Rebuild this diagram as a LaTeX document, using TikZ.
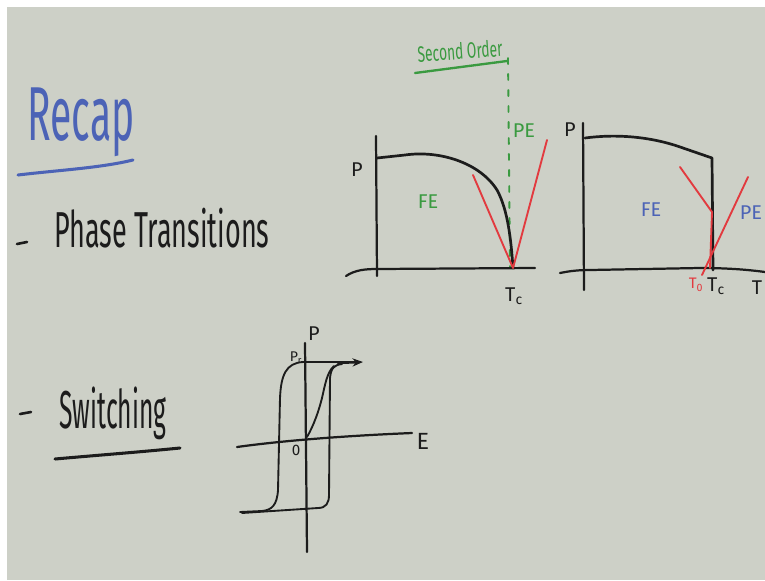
\documentclass[tikz,border=0pt]{standalone}
\usepackage{fontspec}
\setmainfont{Fira Sans}
\usepackage{xcolor}
\usetikzlibrary{arrows.meta}

\definecolor{board}{HTML}{CDD0C7}
\definecolor{penblue}{HTML}{4C63B6}
\definecolor{pengreen}{HTML}{3A9A40}
\definecolor{penred}{HTML}{E23A3F}
\definecolor{ink}{HTML}{1C1C1C}

% handwritten words: squeeze text into the box the pen used
\newcommand{\hand}[3]{\resizebox*{#1}{#2}{#3}}

\begin{document}
\begin{tikzpicture}[x=0.03cm, y=-0.03cm, line cap=round, line join=round,
  curve/.style={draw=ink, line width=2.3pt},
  axis/.style={draw=ink, line width=1.9pt},
  thin curve/.style={draw=ink, line width=1.6pt},
  redline/.style={draw=penred, line width=1.6pt},
  lbl/.style={inner sep=0pt, font=\fontsize{17}{19}\selectfont}]
  \useasboundingbox (0,0) rectangle (765,580);
  \fill[white] (0,0) rectangle (765,580);
  \fill[board] (7,7) rectangle (765,580);

  % Headings
  \node[inner sep=0pt, text=penblue] (recap) at (81,122) {\hand{3.21cm}{2.07cm}{Recap}};
  \draw[penblue, line width=2.6pt] (18,175) .. controls (60,170) and (100,168) .. (133,160);

  \draw[ink, line width=2.2pt] (17,244) -- (27,242);
  \node[inner sep=0pt, text=ink] (phase) at (162,228) {\hand{6.45cm}{1.2cm}{Phase Transitions}};

  \draw[ink, line width=2.2pt] (20,414) -- (31,412);
  \node[inner sep=0pt, text=ink] (switch) at (113,413) {\hand{3.21cm}{1.59cm}{Switching}};
  \draw[ink, line width=2.6pt] (55,459) .. controls (100,455) and (140,452) .. (180,448);

  % Second order transition
  \node[inner sep=0pt, text=pengreen, rotate=4] (second) at (460,51) {\hand{2.55cm}{0.51cm}{Second Order}};
  \draw[pengreen, line width=2pt] (415,73) -- (507,61);
  \draw[pengreen, line width=1.6pt, dash pattern=on 0.18cm off 0.3cm] (508,58) -- (510,268);

  \draw[axis] (376,136) -- (377,276);
  \draw[axis] (346,276) .. controls (355,270) and (365,269) .. (377,269) -- (535,268);
  \draw[curve] (377,158) -- (405,155) .. controls (440,150) and (480,163) .. (497,190)
    .. controls (508,210) and (511,240) .. (513,268);
  \draw[redline] (473,175) -- (513,268) -- (547,140);

  \node[lbl, text=ink] (p1) at (357,170) {P};
  \node[lbl, text=pengreen] (fe1) at (428,202) {FE};
  \node[lbl, text=pengreen] (pe1) at (524,131) {PE};
  \node[lbl, text=ink] (tc1) at (514,296) {T\textsubscript{c}};

  % First order transition
  \draw[axis] (583,123) -- (584,290);
  \draw[axis] (560,273) .. controls (570,271) and (578,270) .. (590,270) -- (700,268)
    .. controls (730,268) and (750,270) .. (765,272);
  \draw[curve] (585,138) .. controls (615,134) and (650,136) .. (683,148)
    -- (712,158) -- (713,270);
  \draw[redline] (680,167) -- (712,212) -- (710,268);
  \draw[redline] (748,177) -- (702,275);

  \node[lbl, text=ink] (p2) at (570,130) {P};
  \node[lbl, text=penblue] (fe2) at (651,210) {FE};
  \node[lbl, text=penblue] (pe2) at (751,213) {PE};
  \node[lbl, text=penred, font=\fontsize{13}{15}\selectfont] (t0) at (696,285) {T\textsubscript{0}};
  \node[lbl, text=ink] (tc2) at (716,286) {T\textsubscript{c}};
  \node[lbl, text=ink] (t2) at (757,288) {T};

  % Hysteresis loop
  \draw[axis] (305,343) -- (307,552);
  \draw[axis] (237,447) .. controls (280,441) and (340,436) .. (412,433);
  \draw[thin curve] (357,362) -- (303,362) .. controls (286,363) and (281,375) .. (280,398)
    -- (278,490) .. controls (277,505) and (272,510) .. (262,511) -- (240,512);
  \draw[thin curve] (242,513) -- (318,508) .. controls (326,508) and (329,503) .. (329,495)
    -- (330,378) .. controls (331,368) and (334,365) .. (342,364);
  \draw[thin curve] (307,437) .. controls (314,425) and (319,410) .. (322,398)
    .. controls (325,385) and (327,372) .. (334,366);
  \draw[ink, line width=2pt, -{Stealth[length=9pt, width=7pt]}] (338,363) -- (363,362);

  \node[lbl, text=ink] (p3) at (314,334) {P};
  \node[lbl, text=ink, font=\fontsize{12}{14}\selectfont] (pr) at (296,358) {P\textsubscript{r}};
  \node[lbl, text=ink, font=\fontsize{13}{15}\selectfont] (zero) at (296,450) {0};
  \node[lbl, text=ink, font=\fontsize{20}{22}\selectfont] (efield) at (423,441) {E};
\end{tikzpicture}
\end{document}
